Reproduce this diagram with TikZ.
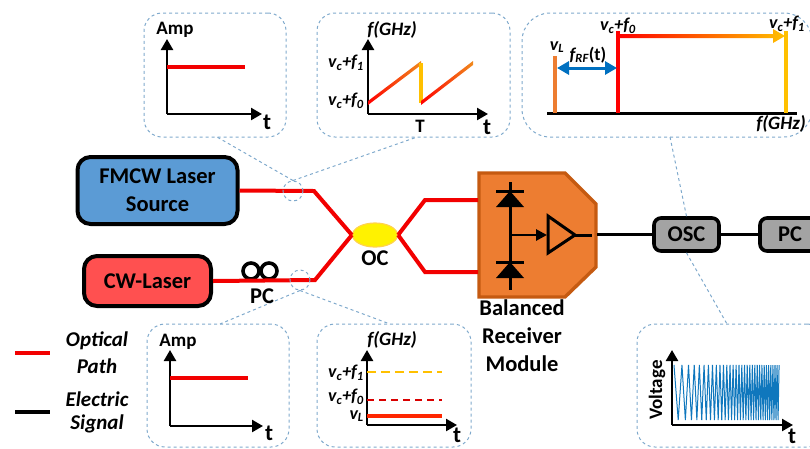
\documentclass[tikz,border=0pt]{standalone}
\usepackage{fontspec}
\setmainfont{Carlito}
\usetikzlibrary{arrows.meta,shapes.geometric}
\definecolor{tapblue}{HTML}{7FA9CC}
\definecolor{srcblue}{HTML}{5B9BD5}
\definecolor{cwred}{HTML}{FF5050}
\definecolor{modorange}{HTML}{ED7D31}
\definecolor{modedge}{HTML}{C55A11}
\definecolor{sweepyellow}{HTML}{FFC000}
\definecolor{sweeporange}{HTML}{F08A1D}
\definecolor{beatblue}{HTML}{0F77BD}
\definecolor{rfblue}{HTML}{0070C0}
\definecolor{oscgray}{HTML}{A3A3A3}
\newcommand{\vcf}[1]{\textit{v\textsubscript{c}+f\textsubscript{#1}}}
\tikzset{
    inset/.style={draw=tapblue, line width=1pt, dashed, rounded corners=18pt, inner sep=0pt},
    tap/.style={draw=tapblue, dashed, line width=1pt},
    tapcircle/.style={circle, draw=tapblue, dashed, line width=1pt, minimum size=20pt, inner sep=0pt},
    optical/.style={red!95!black, line width=4pt, line join=miter},
    electric/.style={black, line width=3.5pt},
    trace/.style={red!95!black, line width=3.2pt},
    axis/.style={black, line width=2.4pt, -{Triangle[length=11pt,width=12pt]}},
    blockbox/.style={draw=black, line width=4pt, rounded corners=13pt, align=center, font=\fontsize{22.5}{28}\selectfont\bfseries},
    smallbox/.style={draw=black, fill=oscgray, line width=3.6pt, rounded corners=7pt, minimum height=33pt, font=\fontsize{22.5}{24}\selectfont\bfseries},
    lab/.style={font=\fontsize{19}{22}\selectfont\bfseries, inner sep=0pt},
    freqlab/.style={font=\fontsize{19}{22}\selectfont\bfseries\itshape, inner sep=0pt},
    tlab/.style={font=\fontsize{23}{24}\selectfont\bfseries, inner sep=0pt},
    vlab/.style={font=\fontsize{18}{20}\selectfont\bfseries, inner sep=0pt},
    bigl/.style={font=\fontsize{22.5}{28}\selectfont\bfseries, inner sep=0pt},
    legend/.style={font=\fontsize{21}{24}\selectfont\bfseries\itshape, inner sep=0pt}
}
\begin{document}
\begin{tikzpicture}[x=1pt,y=-1pt]
    \useasboundingbox (0,0) rectangle (810,448);
    \clip (0,0) rectangle (810,448);

    % Insets
    \node[inset, minimum width=142pt, minimum height=124pt] (ampfmcw) at (215,75) {};
    \node[inset, minimum width=193pt, minimum height=124pt] (freqfmcw) at (413.5,75) {};
    \node[inset, rounded corners=28pt, minimum width=290pt, minimum height=124pt] (beatspec) at (667,75) {};
    \node[inset, minimum width=142pt, minimum height=123pt] (ampcw) at (218,385.5) {};
    \node[inset, minimum width=154pt, minimum height=123pt] (freqcw) at (394,385.5) {};
    \node[inset, minimum width=188pt, minimum height=123pt] (beatwave) at (731,385.5) {};

    % Leader ends on the insets
    \coordinate (ampfmcwtap) at (217,137);
    \coordinate (freqfmcwtap) at (417,137);
    \coordinate (ampcwtap) at (220,324);
    \coordinate (freqcwtap) at (390,324);
    \coordinate (beatspectap) at (670,137);
    \coordinate (beatwavetap) at (727,324);

    % Blocks
    \node[blockbox, fill=srcblue, minimum width=160pt, minimum height=67pt] (fmcw) at (157.5,190.5) {FMCW Laser\\Source};
    \node[blockbox, fill=cwred, minimum width=127pt, minimum height=50pt] (cw) at (147.5,281) {CW-Laser};
    \node[ellipse, draw=sweepyellow!70!white, fill=yellow, line width=1.2pt, minimum width=45pt, minimum height=24pt, inner sep=0pt] (oc) at (375,235) {};
    \node[smallbox, minimum width=65pt] (osc) at (686.5,234.5) {OSC};
    \node[smallbox, minimum width=60pt] (pc) at (790,234.5) {PC};

    % Polarization controller loops
    \draw[black, line width=3.6pt] (251,271) circle (8) (269,271) circle (8);

    % Balanced receiver
    \draw[modedge, fill=modorange, line width=3.4pt] (479,173) -- (565,173) -- (596,204) -- (596,267) -- (565,297) -- (479,297) -- cycle;
    \coordinate (brtop) at (478,200);
    \coordinate (brbot) at (478,272);
    \coordinate (brout) at (597,234.5);
    \draw[black, line width=3pt] (510,182) -- (510,290);
    \draw[black, line width=3pt] (496,191) -- (524,191);
    \draw[black, line width=3pt] (496,262) -- (524,262);
    \fill[black] (510,191) -- (524,207) -- (496,207) -- cycle;
    \fill[black] (510,262) -- (524,278) -- (496,278) -- cycle;
    \draw[black, line width=2.8pt, -{Triangle[length=11pt,width=11pt]}] (510,235) -- (547,235);
    \draw[black, line width=3pt] (548,216) -- (575,235) -- (548,253) -- cycle;
    \draw[black, line width=3pt] (575,235) -- (592,235);

    % Optical paths
    \coordinate (fmcwbend) at (314,191);
    \coordinate (cwbend) at (315,280);
    \coordinate (topbend) at (425,200);
    \coordinate (botbend) at (425,272);
    \draw[optical] (fmcw.east) -- (fmcwbend) -- (oc.west);
    \draw[optical] (cw.east) -- (cwbend) -- (oc.west);
    \draw[optical] (oc.east) -- (topbend) -- (brtop);
    \draw[optical] (oc.east) -- (botbend) -- (brbot);

    % Electric path
    \draw[electric] (brout) -- (osc.west);
    \draw[electric] (osc.east) -- (pc.west);

    % Tap points on the fibres
    \node[tapcircle] (tapfmcw) at (293,191) {};
    \node[tapcircle] (tapcw) at (300,280) {};

    % Dashed leaders
    \draw[tap] (tapfmcw.north) -- (ampfmcwtap);
    \draw[tap] (tapfmcw.north) -- (freqfmcwtap);
    \draw[tap] (tapcw.south) -- (ampcwtap);
    \draw[tap] (tapcw.south) -- (freqcwtap);
    \draw[tap] (beatspectap) -- (osc.north);
    \draw[tap] (osc.south) -- (beatwavetap);

    % Block labels
    \node[bigl] (pclabel) at (262,296) {PC};
    \node[bigl] (oclabel) at (375,258) {OC};
    \node[bigl, align=center] (brlabel) at (522,336) {Balanced\\Receiver\\Module};

    % Amp, FMCW
    \draw[axis] (167,114) -- (167,39);
    \draw[axis] (167,114) -- (262,114);
    \draw[trace] (167,67) -- (245,67);
    \node[lab] (amplabela) at (175,30) {Amp};
    \node[tlab] (tlabela) at (267,122) {t};

    % Sweep, FMCW
    \draw[axis] (368,114) -- (368,39);
    \draw[axis] (368,114) -- (488,114);
    \shade[left color=red, right color=sweeporange] (368,101) -- (421,61) -- (421,65) -- (368,105) -- cycle;
    \draw[sweepyellow, line width=3.2pt] (421,63) -- (421,103);
    \shade[left color=red, right color=sweeporange] (421,101) -- (473,61) -- (473,65) -- (421,105) -- cycle;
    \node[freqlab] (freqlabela) at (392,30) {f(GHz)};
    \node[vlab, anchor=east] (fonea) at (364,63) {\vcf{1}};
    \node[vlab, anchor=east] (fzeroa) at (364,101) {\vcf{0}};
    \node[lab] (periodlabel) at (420,126) {T};
    \node[tlab] (tlabelb) at (487,127) {t};

    % Beat spectrum
    \draw[black, line width=3pt] (547,113) -- (797,113);
    \draw[modorange, line width=3.2pt] (555,56) -- (555,113);
    \draw[red, line width=3.4pt] (618,31) -- (618,113);
    \draw[sweepyellow, line width=3.2pt] (786,31) -- (786,113);
    \shade[left color=red, right color=sweepyellow] (618,34) -- (773,34) -- (773,29) -- (785,36) -- (773,43) -- (773,38) -- (618,38) -- cycle;
    \draw[{Triangle[length=12pt,width=13pt]}-{Triangle[length=12pt,width=13pt]}, rfblue, line width=3pt] (557,68) -- (617,68);
    \node[vlab] (fzerob) at (618,26) {\vcf{0}};
    \node[vlab] (foneb) at (787,24) {\vcf{1}};
    \node[vlab] (vlb) at (557,47) {\textit{v\textsubscript{L}}};
    \node[vlab] (frf) at (588,55) {\textit{f\textsubscript{RF}}(t)};
    \node[freqlab] (freqlabelb) at (781,124) {f(GHz)};

    % Amp, CW
    \draw[axis] (170,426) -- (170,350);
    \draw[axis] (170,426) -- (263,426);
    \draw[trace] (170,378) -- (248,378);
    \node[lab] (amplabelb) at (178,342) {Amp};
    \node[tlab] (tlabelc) at (269,433) {t};

    % Sweep, CW
    \draw[axis] (367,425) -- (367,350);
    \draw[axis] (367,425) -- (457,425);
    \draw[sweepyellow, line width=1.8pt, dash pattern=on 9pt off 5pt] (367,372) -- (442,372);
    \draw[red!85!black, line width=1.8pt, dash pattern=on 7pt off 5pt] (367,400) -- (442,400);
    \draw[red!70!orange, line width=3.2pt] (367,416) -- (442,416);
    \node[freqlab] (freqlabelc) at (392,340) {f(GHz)};
    \node[vlab, anchor=east] (fonec) at (364,373) {\vcf{1}};
    \node[vlab, anchor=east] (fzeroc) at (364,397) {\vcf{0}};
    \node[vlab, anchor=east] (vlc) at (364,416) {\textit{v\textsubscript{L}}};
    \node[tlab] (tlabeld) at (457,435) {t};

    % Beat waveform
    \draw[beatblue, line width=1pt] plot[samples=65, domain=0:64] ({674+(-0.111+sqrt(0.01232+0.00368*\x))/0.00368}, {392.5-27.5*cos(180*\x)});
    \draw[axis] (672,425) -- (672,350);
    \draw[axis] (672,425) -- (793,425);
    \node[lab, rotate=90] (voltlabel) at (657,390) {Voltage};
    \node[tlab] (tlabele) at (792,436) {t};

    % Legend
    \coordinate (opta) at (15,353);
    \coordinate (optb) at (50,353);
    \coordinate (elea) at (15,412);
    \coordinate (eleb) at (50,412);
    \draw[trace] (opta) -- (optb);
    \draw[black, line width=3.2pt] (elea) -- (eleb);
    \node[legend] (leg1) at (97,341) {Optical};
    \node[legend] (leg2) at (97,366) {Path};
    \node[legend] (leg3) at (97,399) {Electric};
    \node[legend] (leg4) at (97,424) {Signal};
\end{tikzpicture}
\end{document}
